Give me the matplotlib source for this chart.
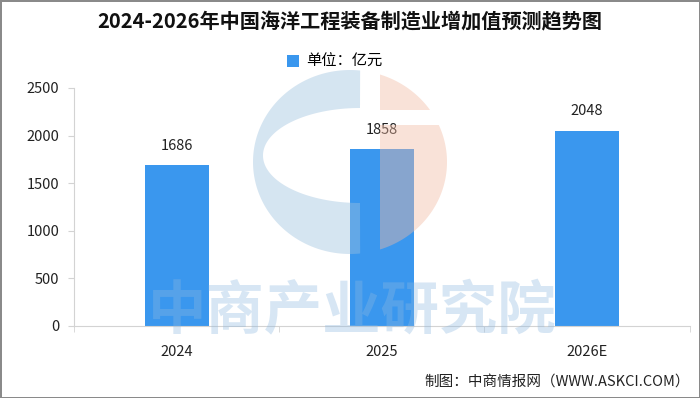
import matplotlib
matplotlib.use('Agg')
import matplotlib.pyplot as plt
import numpy as np
from matplotlib.patches import Polygon

# 数据
years = ['2024', '2025', '2026E']
values = [1686, 1858, 2048]

title = '2024-2026年中国海洋工程装备制造业增加值预测趋势图'
legend_label = '单位：亿元'
source = '制图：中商情报网（WWW.ASKCI.COM）'
watermark = '中商产业研究院'

plt.rcParams['font.family'] = ['Noto Sans CJK SC', 'DejaVu Sans']

bar_color = '#3A97EE'
text_color = '#222222'
spine_color = '#D3D3D3'

fig = plt.figure(figsize=(7, 3.98), dpi=100)
fig.patch.set_facecolor('white')
fig.patch.set_edgecolor('#8A8A8A')
fig.patch.set_linewidth(2)

ax = fig.add_axes([0.1064, 0.181, 0.8786, 0.598])
x = np.arange(len(years))
bars = ax.bar(x, values, 0.31, color=bar_color, label=legend_label, zorder=2)

for xi, v in zip(x, values):
    ax.annotate(str(v), (xi, v), textcoords='offset points', xytext=(0, 9),
                ha='center', va='bottom', fontsize=10.5, color=text_color)

ax.set_xlim(-0.5, 2.5)
ax.set_ylim(0, 2500)
ax.set_yticks(np.arange(0, 2501, 500))
ax.set_xticks(x)
ax.set_xticklabels(years)
ax.set_xticks([-0.5, 0.5, 1.5, 2.5], minor=True)
ax.tick_params(axis='x', which='major', length=0, pad=14, labelsize=10.5, labelcolor=text_color)
ax.tick_params(axis='x', which='minor', length=4, color=spine_color)
ax.tick_params(axis='y', length=4, color=spine_color, pad=7, labelsize=10.5, labelcolor=text_color)
for s in ['top', 'right']:
    ax.spines[s].set_visible(False)
for s in ['left', 'bottom']:
    ax.spines[s].set_color(spine_color)

fig.text(0.5, 0.945, title, ha='center', va='center', fontsize=14.5,
         fontweight='bold', color='#111111')

# 图例
fig.legend(handles=[bars], labels=[legend_label], loc='center', bbox_to_anchor=(0.478, 0.845),
           frameon=False, fontsize=11, handlelength=0.8, handleheight=0.8, handletextpad=0.5)

fig.text(0.985, 0.04, source, ha='right', va='center', fontsize=10.5, color=text_color)

# 水印 (像素坐标)
ov = fig.add_axes([0, 0, 1, 1], zorder=5)
ov.set_xlim(0, 700)
ov.set_ylim(398, 0)
ov.axis('off')
ov.patch.set_alpha(0)

cx, cy, rx, ry = 350, 162, 97, 92
t1 = np.linspace(np.radians(84), np.radians(276), 120)
outer = np.column_stack([cx + rx * np.cos(t1), cy - ry * np.sin(t1)])
t2 = np.linspace(np.radians(270), np.radians(90), 120)
inner = np.column_stack([360 + 97 * np.cos(t2), 155.5 - 47.5 * np.sin(t2)])
blue_poly = np.vstack([outer, [[360, 203]], inner])
ov.add_patch(Polygon(blue_poly, closed=True, facecolor='#9DC1DE', alpha=0.42, lw=0))

t3 = np.linspace(np.arccos(30 / rx), np.arcsin(52 / ry), 60)
top_piece = np.vstack([np.column_stack([cx + rx * np.cos(t3), cy - ry * np.sin(t3)]), [[380, 110]]])
ov.add_patch(Polygon(top_piece, closed=True, facecolor='#F2BAA2', alpha=0.42, lw=0))
t4 = np.linspace(np.arcsin(37 / ry), -np.arccos(30 / rx), 80)
bot_piece = np.vstack([np.column_stack([cx + rx * np.cos(t4), cy - ry * np.sin(t4)]), [[380, 125]]])
ov.add_patch(Polygon(bot_piece, closed=True, facecolor='#F2BAA2', alpha=0.42, lw=0))

ov.text(352, 312, watermark, ha='center', va='center', fontsize=42, fontweight='bold',
        color='#8DB8E0', alpha=0.35)

fig.savefig('out.png', dpi=100, facecolor=fig.get_facecolor(), edgecolor=fig.get_edgecolor())
